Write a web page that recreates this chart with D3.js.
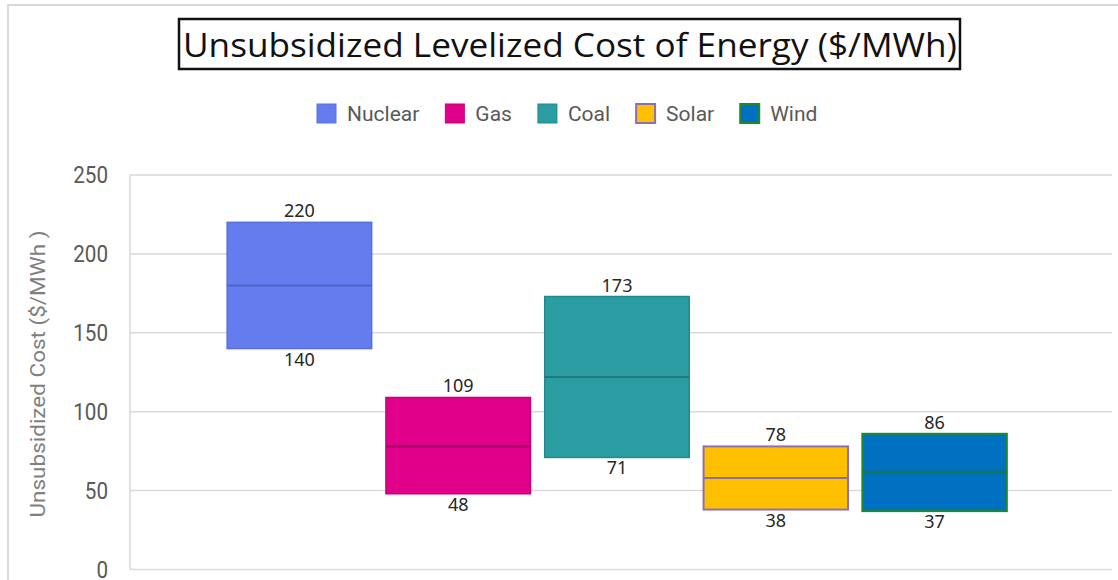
<!DOCTYPE html>
<html>
<head>
<meta charset="utf-8">
<script src="https://cdn.jsdelivr.net/npm/d3@7"></script>
<style>
  body { margin: 0; background: #fff; }
  svg { display: block; }
</style>
</head>
<body>
<svg id="chart" width="1118" height="580"></svg>
<script>
// data
const categories = ["Nuclear", "Gas", "Coal", "Solar", "Wind"];
const lowValues = [140, 48, 71, 38, 37];
const midValues = [180, 78, 122, 58, 62];
const highValues = [220, 109, 173, 78, 86];
const yTicks = [0, 50, 100, 150, 200, 250];

const fills = ["#647cee", "#e0008a", "#2a9da2", "#ffc000", "#0070c0"];
const strokes = ["#5a70d8", "#c8007c", "#23898d", "#8e6fb3", "#1d8a2e"];
const midStrokes = ["#4f62c4", "#a8006a", "#1d7a7e", "#8e6f9a", "#157a3a"];

const svg = d3.select("#chart");

// outer chart border (runs off the right / bottom edge)
svg.append("rect")
  .attr("x", 8).attr("y", 5)
  .attr("width", 1300).attr("height", 700)
  .attr("fill", "none")
  .attr("stroke", "#d9d9d9")
  .attr("stroke-width", 2);

var yScale = d3.scaleLinear().domain([0, 250]).range([569.5, 175]);
var xScale = d3.scaleBand().domain(categories)
  .range([220, 1014]).paddingInner(0.09).paddingOuter(0.045);

var plotLeft = 130, plotRight = 1112;

// gridlines
svg.append("g").selectAll("line")
  .data(yTicks)
  .enter().append("line")
  .attr("x1", plotLeft).attr("x2", plotRight)
  .attr("y1", d => yScale(d)).attr("y2", d => yScale(d))
  .attr("stroke", "#d9d9d9")
  .attr("stroke-width", 1.5);

svg.append("line")
  .attr("x1", plotLeft).attr("x2", plotLeft)
  .attr("y1", yScale(250)).attr("y2", yScale(0))
  .attr("stroke", "#d9d9d9")
  .attr("stroke-width", 1.5);

// y axis labels
var yAxis = svg.append("g")
  .attr("transform", "translate(108,0)")
  .call(d3.axisLeft(yScale).tickValues(yTicks).tickSize(0).tickPadding(0));
yAxis.select(".domain").remove();
yAxis.selectAll(".tick text")
  .attr("font-family", "Roboto, 'Liberation Sans', sans-serif")
  .attr("font-size", "24px")
  .attr("fill", "#595959")
  .attr("transform", "scale(0.86,1)")
  .attr("x", 0);

svg.append("text")
  .attr("transform", "translate(45,374) rotate(-90)")
  .attr("text-anchor", "middle")
  .attr("font-family", "Roboto, 'Liberation Sans', sans-serif")
  .attr("font-size", "20px")
  .attr("fill", "#7f7f7f")
  .attr("textLength", 287)
  .attr("lengthAdjust", "spacingAndGlyphs")
  .text("Unsubsidized Cost ($/MWh )");

// floating range bars
var bars = svg.append("g").selectAll("g")
  .data(categories)
  .enter().append("g");

bars.append("rect")
  .attr("x", d => xScale(d))
  .attr("y", (d, i) => yScale(highValues[i]))
  .attr("width", xScale.bandwidth())
  .attr("height", (d, i) => yScale(lowValues[i]) - yScale(highValues[i]))
  .attr("fill", (d, i) => fills[i])
  .attr("stroke", (d, i) => strokes[i])
  .attr("stroke-width", (d, i) => i >= 3 ? 2 : 1.5);

bars.append("line")
  .attr("x1", d => xScale(d))
  .attr("x2", d => xScale(d) + xScale.bandwidth())
  .attr("y1", (d, i) => yScale(midValues[i]))
  .attr("y2", (d, i) => yScale(midValues[i]))
  .attr("stroke", (d, i) => midStrokes[i])
  .attr("stroke-width", 2);

bars.append("text")
  .attr("x", d => xScale(d) + xScale.bandwidth() / 2)
  .attr("y", (d, i) => yScale(highValues[i]) - 5)
  .attr("text-anchor", "middle")
  .attr("font-family", "'Noto Sans', Lato, sans-serif")
  .attr("font-size", "18px")
  .attr("fill", "#262626")
  .text((d, i) => highValues[i]);

bars.append("text")
  .attr("x", d => xScale(d) + xScale.bandwidth() / 2)
  .attr("y", (d, i) => yScale(lowValues[i]) + 17)
  .attr("text-anchor", "middle")
  .attr("font-family", "'Noto Sans', Lato, sans-serif")
  .attr("font-size", "18px")
  .attr("fill", "#262626")
  .text((d, i) => lowValues[i]);

// title with box
svg.append("rect")
  .attr("x", 179).attr("y", 19)
  .attr("width", 781).attr("height", 50)
  .attr("fill", "#fff")
  .attr("stroke", "#111")
  .attr("stroke-width", 2.5);

svg.append("text")
  .attr("x", 183)
  .attr("y", 57)
  .attr("font-family", "'Open Sans', 'Liberation Sans', sans-serif")
  .attr("font-size", "33px")
  .attr("fill", "#111")
  .attr("textLength", 774)
  .attr("lengthAdjust", "spacingAndGlyphs")
  .text("Unsubsidized Levelized Cost of Energy ($/MWh)");

// legend
var legend = svg.append("g");
var lx = 316;
categories.forEach(function(c, i) {
  var item = legend.append("g").attr("transform", "translate(" + lx + ",0)");
  item.append("rect")
    .attr("x", 1).attr("y", 104)
    .attr("width", 19).attr("height", 19)
    .attr("fill", fills[i])
    .attr("stroke", strokes[i])
    .attr("stroke-width", i >= 3 ? 2 : 1);
  var t = item.append("text")
    .attr("x", 31).attr("y", 121)
    .attr("font-family", "Roboto, 'Liberation Sans', sans-serif")
    .attr("font-size", "21px")
    .attr("fill", "#595959")
    .text(c);
  lx += 31 + t.node().getComputedTextLength() + 25;
});
</script>
</body>
</html>
